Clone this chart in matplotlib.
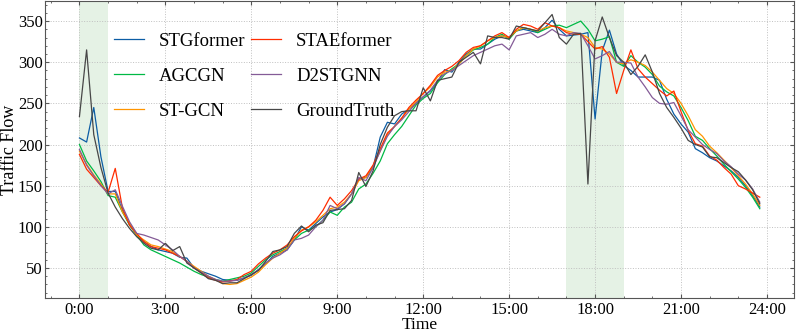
import matplotlib.pyplot as plt
import numpy as np
from matplotlib.ticker import AutoMinorLocator, MultipleLocator

plt.rcParams['font.family'] = ['Liberation Serif', 'DejaVu Serif']
plt.rcParams['mathtext.fontset'] = 'stix'

# 15-minute steps over one day
hours = np.arange(96) * 0.25

tick_hours = [0, 3, 6, 9, 12, 15, 18, 21, 24]
tick_labels = ['0:00', '3:00', '6:00', '9:00', '12:00', '15:00', '18:00', '21:00', '24:00']

highlight_spans = [(0, 1), (17, 19)]

stgformer = [208, 203, 245, 185, 143, 143, 120, 103,
             90, 82, 76, 72, 70, 68, 63, 62,
             50, 46, 43, 40, 36, 35, 35, 38,
             41, 48, 55, 64, 68, 72, 84, 100,
             96, 104, 112, 118, 121, 128, 140, 158,
             160, 172, 209, 227, 225, 237, 243, 250,
             258, 265, 276, 291, 288, 300, 310, 316,
             316, 322, 328, 332, 330, 338, 340, 338,
             336, 342, 351, 340, 332, 333, 334, 336,
             231, 314, 339, 310, 296, 290, 282, 282,
             282, 278, 255, 237, 225, 215, 195, 190,
             184, 180, 174, 168, 160, 150, 138, 124]

agcgn = [200, 180, 168, 155, 138, 136, 118, 102,
         90, 78, 72, 68, 64, 60, 56, 51,
         46, 42, 39, 36, 34, 36, 38, 40,
         44, 52, 60, 66, 70, 74, 84, 92,
         96, 100, 108, 118, 114, 124, 130, 146,
         152, 165, 180, 201, 212, 222, 235, 248,
         256, 262, 275, 285, 292, 298, 308, 315,
         318, 322, 330, 334, 328, 338, 342, 340,
         336, 340, 344, 345, 342, 346, 350, 340,
         326, 328, 331, 300, 295, 308, 300, 294,
         285, 271, 264, 259, 245, 229, 210, 205,
         195, 186, 176, 167, 158, 148, 136, 122]

stgcn = [192, 176, 163, 152, 140, 140, 118, 104,
         90, 84, 78, 76, 73, 70, 64, 58,
         52, 46, 40, 36, 31, 30, 31, 35,
         39, 45, 54, 62, 68, 74, 86, 96,
         100, 106, 114, 122, 124, 130, 140, 156,
         160, 174, 192, 212, 222, 232, 243, 252,
         262, 270, 282, 288, 290, 298, 308, 316,
         320, 326, 330, 332, 330, 338, 342, 340,
         338, 342, 344, 342, 338, 336, 334, 330,
         318, 316, 310, 300, 298, 303, 300, 296,
         288, 278, 268, 262, 250, 235, 218, 210,
         198, 190, 181, 172, 162, 152, 140, 126]

staeformer = [188, 170, 160, 150, 142, 171, 123, 102,
              92, 82, 76, 74, 72, 68, 64, 58,
              50, 44, 38, 35, 33, 34, 36, 42,
              46, 55, 62, 68, 72, 78, 88, 95,
              100, 108, 120, 136, 126, 134, 144, 158,
              162, 175, 195, 214, 222, 232, 245, 254,
              262, 272, 284, 290, 295, 302, 312, 318,
              320, 326, 332, 336, 330, 340, 346, 344,
              340, 348, 344, 342, 336, 334, 334, 325,
              316, 319, 306, 262, 290, 315, 292, 282,
              274, 266, 259, 265, 240, 217, 201, 198,
              186, 181, 172, 164, 150, 146, 141, 136]

d2stgnn = [194, 175, 162, 150, 140, 145, 125, 106,
           92, 90, 87, 84, 78, 72, 64, 58,
           50, 45, 40, 36, 34, 34, 35, 38,
           42, 48, 56, 62, 66, 72, 84, 86,
           90, 100, 108, 126, 122, 128, 140, 160,
           156, 172, 192, 210, 222, 230, 240, 250,
           258, 266, 278, 286, 290, 296, 302, 308,
           312, 316, 320, 322, 315, 332, 334, 336,
           330, 334, 340, 334, 332, 336, 335, 320,
           304, 308, 313, 300, 300, 299, 282, 270,
           257, 250, 249, 251, 235, 218, 209, 200,
           194, 189, 180, 173, 164, 157, 146, 130]

ground_truth = [234, 315, 212, 172, 141, 124, 110, 98,
                88, 80, 74, 72, 80, 71, 76, 56,
                50, 44, 37, 35, 31, 32, 32, 37,
                42, 47, 58, 70, 72, 76, 92, 101,
                94, 102, 105, 120, 121, 122, 132, 166,
                149, 168, 200, 221, 235, 240, 241, 241,
                269, 253, 278, 280, 282, 300, 306, 312,
                298, 332, 330, 330, 328, 344, 342, 340,
                338, 348, 358, 330, 322, 334, 335, 152,
                326, 355, 330, 308, 300, 285, 295, 309,
                288, 262, 245, 233, 220, 205, 200, 197,
                185, 184, 178, 172, 167, 157, 145, 128]

series = [
    ('STGformer', stgformer, '#0C5DA5'),
    ('AGCGN', agcgn, '#00B945'),
    ('ST-GCN', stgcn, '#FF9500'),
    ('STAEformer', staeformer, '#FF2C00'),
    ('D2STGNN', d2stgnn, '#845B97'),
    ('GroundTruth', ground_truth, '#474747'),
]

fig, ax = plt.subplots(figsize=(7.97, 3.34), dpi=100)
fig.subplots_adjust(left=0.057, right=0.996, top=0.997, bottom=0.108)

for start, end in highlight_spans:
    ax.axvspan(start, end, color='green', alpha=0.1, linewidth=0)

for name, values, color in series:
    ax.plot(hours, values, label=name, color=color, linewidth=0.9)

ax.set_xticks(tick_hours)
ax.set_xticklabels(tick_labels)
ax.xaxis.set_minor_locator(MultipleLocator(1))
ax.yaxis.set_minor_locator(AutoMinorLocator(5))
ax.tick_params(which='both', direction='in', top=True, right=True, labelsize=12,
               color='#555555', pad=2)
ax.tick_params(axis='x', pad=3)
ax.tick_params(which='major', length=3)
ax.tick_params(which='minor', length=1.5)
for spine in ax.spines.values():
    spine.set_color('#555555')

ax.grid(True, linestyle=':', color='#c0c0c0', linewidth=0.7)
ax.set_xlabel('Time', fontsize=12.5, labelpad=-0.5)
ax.set_ylabel('Traffic Flow', fontsize=13, labelpad=0)

ax.legend(loc='upper left', bbox_to_anchor=(0.069, 0.95), ncol=2, frameon=False,
          fontsize=13.5, handlelength=1.6, handletextpad=0.8, columnspacing=0.3,
          labelspacing=0.95)

plt.savefig('out.png', dpi=100)
plt.close()
